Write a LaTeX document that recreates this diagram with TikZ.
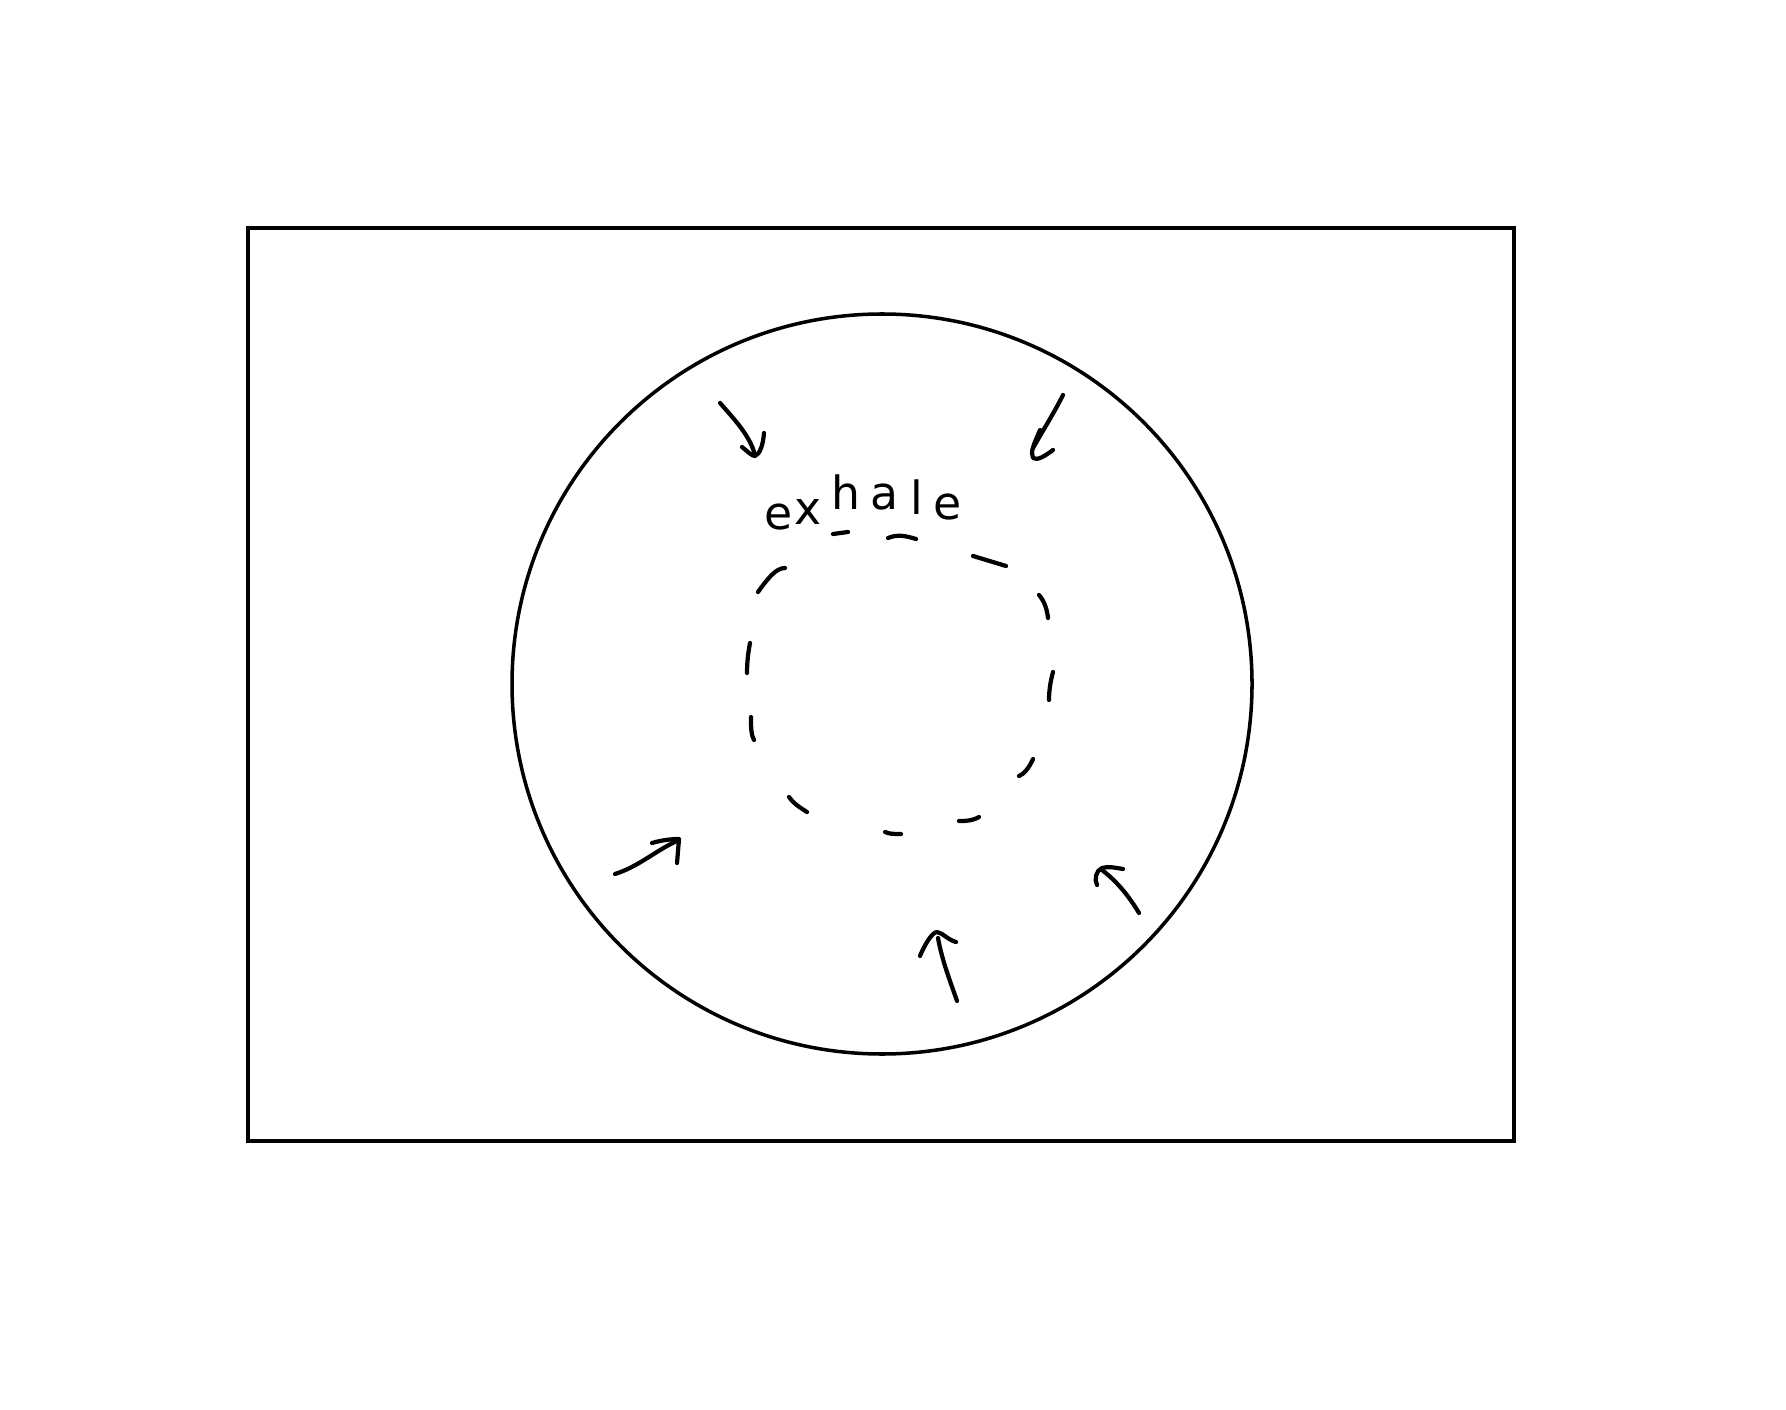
\documentclass[tikz,border=0pt]{standalone}
\usepackage{fontspec}
\setmainfont{DejaVu Sans}
\begin{document}
\begin{tikzpicture}[x=0.01cm,y=-0.01cm,
  frame/.style={line width=1pt},
  hand/.style={line width=1.2pt,line cap=round,line join=round},
  letter/.style={inner sep=0pt,anchor=base,font=\fontsize{13}{13}\selectfont}]
\useasboundingbox (0,0) rectangle (1786,1410);
\fill[white] (0,0) rectangle (1786,1410);
% frame and circle
\draw[frame] (248,228) rectangle (1514,1141);
\draw[frame] (882,684) circle[radius=370];
% text
\node[letter] (l1) at (779,530) {e};
\node[letter] (l2) at (808,525) {x};
\node[letter] (l3) at (846,510) {h};
\node[letter] (l4) at (884,510) {a};
\node[letter] (l5) at (917,515) {l};
\node[letter] (l6) at (948,520) {e};
% dashed inner circle (hand drawn)
\draw[hand] (833,534) -- (848,532);
\draw[hand] (888,538) .. controls (898,534) and (906,536) .. (916,539);
\draw[hand] (973,556) -- (1006,566);
\draw[hand] (1039,595) .. controls (1045,602) and (1047,610) .. (1048,618);
\draw[hand] (1053,672) .. controls (1050,683) and (1049,692) .. (1049,700);
\draw[hand] (1033,759) .. controls (1029,768) and (1024,774) .. (1019,776);
\draw[hand] (979,817) .. controls (972,821) and (966,821) .. (959,821);
\draw[hand] (901,834) .. controls (894,834) and (889,834) .. (885,832);
\draw[hand] (807,812) .. controls (799,807) and (793,803) .. (789,797);
\draw[hand] (754,740) .. controls (751,735) and (751,727) .. (751,717);
\draw[hand] (747,673) .. controls (747,663) and (748,653) .. (750,643);
\draw[hand] (758,592) .. controls (768,578) and (776,568) .. (785,568);
% arrows: top-left
\draw[hand] (720,403) .. controls (735,420) and (750,436) .. (755,455);
\draw[hand] (742,447) .. controls (748,452) and (752,456) .. (755,456) .. controls (760,454) and (763,445) .. (764,433);
% top-right
\draw[hand] (1063,395) .. controls (1054,413) and (1042,432) .. (1033,448);
\draw[hand] (1040,430) .. controls (1034,444) and (1030,452) .. (1033,458) .. controls (1037,461) and (1045,456) .. (1053,450);
% bottom-left
\draw[hand] (615,874) .. controls (640,866) and (656,850) .. (679,840);
\draw[hand] (652,843) .. controls (662,840) and (672,839) .. (679,839) -- (677,863);
% bottom-center
\draw[hand] (957,1001) .. controls (949,978) and (942,960) .. (938,938);
\draw[hand] (920,956) .. controls (924,946) and (932,932) .. (937,932) .. controls (943,933) and (948,940) .. (956,942);
% bottom-right
\draw[hand] (1139,913) .. controls (1127,893) and (1115,880) .. (1102,870);
\draw[hand] (1097,885) .. controls (1094,880) and (1096,870) .. (1102,868) .. controls (1110,866) and (1116,868) .. (1123,869);
\end{tikzpicture}
\end{document}
